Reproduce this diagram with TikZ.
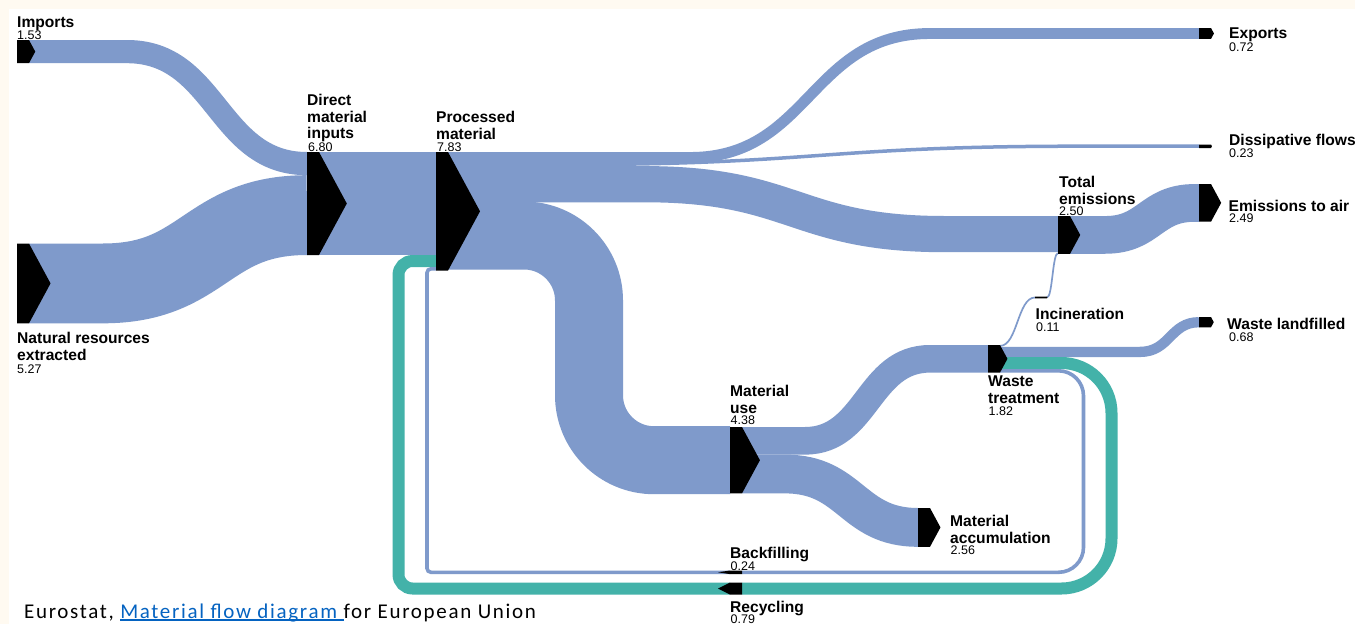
\documentclass[tikz,border=0pt]{standalone}
\usepackage{fontspec}
\setmainfont{Liberation Sans}
\newfontfamily\capfont[LetterSpace=8]{Carlito}
\usetikzlibrary{calc}

\definecolor{flowblue}{RGB}{127,154,203}
\definecolor{flowteal}{RGB}{67,178,169}
\definecolor{paper}{RGB}{255,250,241}
\definecolor{linkblue}{RGB}{5,99,193}

% right-pointing black marker: name, left x, top y, height
\newcommand{\flowmark}[4]{%
  \node[markbox, minimum height=#4pt] (#1) at ({#2+6},{#3+#4/2}) {};
  \fill[black] (#1.north west) -- (#1.north east) -- ([xshift={0.27*#4pt}]#1.east)
    -- (#1.south east) -- (#1.south west) -- cycle;}
% left-pointing black marker (return flows)
\newcommand{\flowmarkback}[4]{%
  \node[markbox, minimum height=#4pt] (#1) at ({#2+6},{#3+#4/2}) {};
  \fill[black] (#1.north east) -- (#1.north west) -- ([xshift=-12pt]#1.west)
    -- (#1.south west) -- (#1.south east) -- cycle;}
% underlined hyperlink-style text
\newcommand{\linktext}[1]{\setbox0\hbox{#1}\rlap{\rule[-2.4pt]{\wd0}{1.3pt}}\box0}

\begin{document}
\begin{tikzpicture}[x=1pt,y=-1pt,
  markbox/.style={rectangle, inner sep=0pt, outer sep=0pt, minimum width=12pt},
  flow/.style={draw=flowblue, line cap=butt},
  cycleflow/.style={draw=flowteal, line cap=butt},
  lbl/.style={anchor=north west, inner sep=0pt, align=left,
    font=\fontsize{15.6}{16.5}\selectfont\bfseries},
  val/.style={anchor=base west, inner sep=0pt, font=\fontsize{12.5}{13}\selectfont}]

% page
\useasboundingbox (0,0) rectangle (1355,624);
\fill[paper] (0,0) rectangle (1355,624);
\fill[white] (8.5,8.5) rectangle (1355,624);

% flow ports
\coordinate (imp-o) at (29,51.6);
\coordinate (nat-o) at (29,283.4);
\coordinate (dmi-i1) at (307,163.6);
\coordinate (dmi-i2) at (307,215.1);
\coordinate (dmi-o) at (319,203.5);
\coordinate (pm-i1) at (436,203.5);
\coordinate (pm-i2) at (436,261);
\coordinate (pm-i3) at (436,268.8);
\coordinate (pm-o1) at (448,157.5);
\coordinate (pm-o2) at (448,164.6);
\coordinate (pm-o3) at (448,184.2);
\coordinate (pm-o4) at (448,235.5);
\coordinate (exp-i) at (1199,33.5);
\coordinate (dis-i) at (1199,146.2);
\coordinate (te-i1) at (1058,234.1);
\coordinate (te-i2) at (1058,253.1);
\coordinate (te-o) at (1070,234.9);
\coordinate (eta-i) at (1199,202.9);
\coordinate (mu-i) at (730,460.2);
\coordinate (mu-o1) at (742,440.8);
\coordinate (mu-o2) at (742,474);
\coordinate (wt-i) at (988,358.8);
\coordinate (wt-o1) at (1000,345.9);
\coordinate (wt-o2) at (1000,351.9);
\coordinate (wt-o3) at (1000,363);
\coordinate (wt-o4) at (1000,370.8);
\coordinate (ma-i) at (918,527.4);
\coordinate (inc-i) at (1035,297.5);
\coordinate (inc-o) at (1047,297.5);
\coordinate (wl-i) at (1199,322.2);
\coordinate (rec-i) at (742,588.5);
\coordinate (rec-o) at (730,588.5);
\coordinate (bf-i) at (742,572.3);
\coordinate (bf-o) at (730,572.3);

% material flows
\draw[flow, line width=23.2pt] (imp-o) -- (127,51.6) .. controls (217,51.6) and (217,163.6) .. (dmi-i1);
\draw[flow, line width=79.8pt] (nat-o) -- (103,283.4) .. controls (205,283.4) and (205,215.1) .. (dmi-i2);
\draw[flow, line width=103pt] (dmi-o) -- (pm-i1);
\draw[flow, line width=10.9pt] (pm-o1) -- (690,157.5) .. controls (810,157.5) and (810,33.5) .. (930,33.5) -- (exp-i);
\draw[flow, line width=3.5pt] (pm-o2) -- (560,164.6) .. controls (820,164.6) and (820,146.2) .. (1080,146.2) -- (dis-i);
\draw[flow, line width=36.2pt] (pm-o3) -- (645,184.2) .. controls (795,184.2) and (795,234.1) .. (945,234.1) -- (te-i1);
\draw[flow, line width=68pt, rounded corners=65pt] (pm-o4) -- (589,235.5) -- (589,460.2) -- (mu-i);
\draw[flow, line width=27.6pt] (mu-o1) -- (805,440.8) .. controls (867.5,440.8) and (867.5,358.8) .. (930,358.8) -- (wt-i);
\draw[flow, line width=38.8pt] (mu-o2) -- (785,474) .. controls (851.5,474) and (851.5,527.4) .. (ma-i);
\draw[flow, line width=1.7pt] (wt-o1) .. controls (1017.5,345.9) and (1017.5,297.5) .. (inc-i);
\draw[flow, line width=1.7pt] (inc-o) .. controls (1052.5,297.5) and (1052.5,253.1) .. (te-i2);
\draw[flow, line width=10.3pt] (wt-o2) -- (1140,351.9) .. controls (1170,351.9) and (1170,322.2) .. (wl-i);
\draw[flow, line width=37.7pt] (te-o) -- (1105,234.9) .. controls (1150,234.9) and (1150,202.9) .. (1195,202.9) -- (eta-i);

% return flows
\draw[cycleflow, line width=12pt, rounded corners=50pt] (wt-o3) -- (1111.5,363) -- (1111.5,588.5) -- (rec-i);
\draw[cycleflow, line width=12pt, rounded corners=14pt] (rec-o) -- (398.5,588.5) -- (398.5,261) -- (pm-i2);
\draw[flow, line width=3.6pt, rounded corners=25pt] (wt-o4) -- (1083.5,370.8) -- (1083.5,572.3) -- (bf-i);
\draw[flow, line width=3.6pt, rounded corners=4pt] (bf-o) -- (427,572.3) -- (427,268.8) -- (pm-i3);

% markers
\flowmark{imp}{17}{40}{23.2}
\flowmark{nat}{17}{243.5}{79.8}
\flowmark{dmi}{307}{152}{103}
\flowmark{pm}{436}{152}{118.6}
\flowmark{exp}{1199}{28}{10.9}
\flowmark{dis}{1199}{144.5}{3.5}
\flowmark{te}{1058}{216}{37.9}
\flowmark{eta}{1199}{184}{37.7}
\flowmark{inc}{1035}{296.6}{1.8}
\flowmark{wl}{1199}{317}{10.3}
\flowmark{wt}{988}{345}{27.6}
\flowmark{mu}{730}{427}{66.4}
\flowmark{ma}{918}{508}{38.8}
\flowmarkback{bf}{730}{570.5}{3.6}
\flowmarkback{rec}{730}{582.5}{12}

% labels
\node[lbl] (imp-t) at (17,17) {Imports};
\node[val] (imp-v) at (17,39) {1.53};
\node[lbl] (nat-t) at (17,332) {Natural resources\\extracted};
\node[val] (nat-v) at (17,373) {5.27};
\node[lbl] (dmi-t) at (307,94.3) {Direct\\material\\inputs};
\node[val] (dmi-v) at (308,151) {6.80};
\node[lbl] (pm-t) at (436,111) {Processed\\material};
\node[val] (pm-v) at (437,151) {7.83};
\node[lbl] (exp-t) at (1229,27.7) {Exports};
\node[val] (exp-v) at (1229,51) {0.72};
\node[lbl] (dis-t) at (1229,134.3) {Dissipative flows};
\node[val] (dis-v) at (1229,157.7) {0.23};
\node[lbl] (te-t) at (1059,176) {Total\\emissions};
\node[val] (te-v) at (1059,215) {2.50};
\node[lbl] (eta-t) at (1228.5,200) {Emissions to air};
\node[val] (eta-v) at (1229,222.7) {2.49};
\node[lbl] (inc-t) at (1035.5,307.7) {Incineration};
\node[val] (inc-v) at (1036,331.7) {0.11};
\node[lbl] (wl-t) at (1227,317.7) {Waste landfilled};
\node[val] (wl-v) at (1229,341.7) {0.68};
\node[lbl] (wt-t) at (988,375.7) {Waste\\treatment};
\node[val] (wt-v) at (988.5,415) {1.82};
\node[lbl] (mu-t) at (730,385) {Material\\use};
\node[val] (mu-v) at (730.5,424.3) {4.38};
\node[lbl] (ma-t) at (950,515) {Material\\accumulation};
\node[val] (ma-v) at (950.5,554) {2.56};
\node[lbl] (bf-t) at (730,546.7) {Backfilling};
\node[val] (bf-v) at (730.5,570) {0.24};
\node[lbl] (rec-t) at (730,600.5) {Recycling};
\node[val] (rec-v) at (730.5,623.5) {0.79};

% source line
\node[anchor=base west, inner sep=0pt, font=\capfont\fontsize{21}{24}\selectfont] (src) at (24,618.3)
  {Eurostat, {\color{linkblue}\linktext{Material flow diagram }}for European Union};
\end{tikzpicture}
\end{document}
